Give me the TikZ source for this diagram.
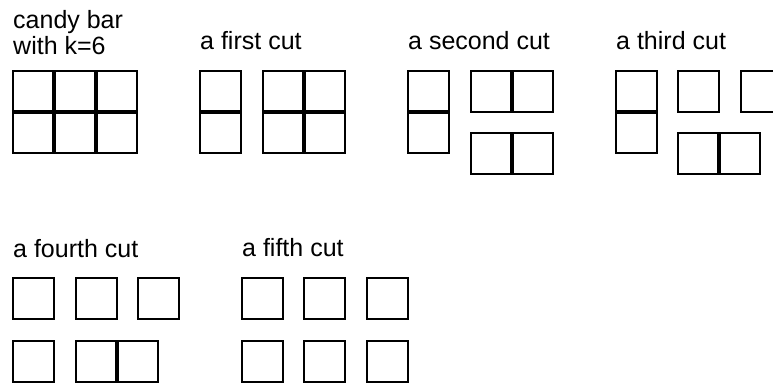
\documentclass[tikz,border=0pt]{standalone}
\usepackage{fontspec}
\setmainfont{Liberation Sans}
\usetikzlibrary{calc}
\tikzset{
  piece/.style={draw=black, line width=1.8pt, outer sep=0pt, inner sep=0pt,
              anchor=north west, minimum width=41pt, minimum height=41pt},
  wide/.style={piece, minimum width=82pt},
  tall/.style={piece, minimum height=82pt},
  block/.style={piece, minimum width=82pt, minimum height=82pt},
  whole/.style={piece, minimum width=124pt, minimum height=82pt},
  cutline/.style={draw=black, line width=3.8pt},
  lbl/.style={font=\fontsize{25}{28}\selectfont, inner sep=0pt, anchor=base west},
}

\begin{document}
\begin{tikzpicture}[x=1pt,y=-1pt]
    \useasboundingbox (0,0) rectangle (773,383);

    % the whole bar
    \node[lbl] (lbar) at (13,28){candy bar};
    \node[lbl] (lk) at (13,54){with k=6};
    \node[whole] (bar) at (13,71){};
    \draw[cutline] ($(bar.north west)!1/3!(bar.north east)$) -- ($(bar.south west)!1/3!(bar.south east)$);
    \draw[cutline] ($(bar.north west)!2/3!(bar.north east)$) -- ($(bar.south west)!2/3!(bar.south east)$);
    \draw[cutline] (bar.west) -- (bar.east);

    % first cut
    \node[lbl] (lone) at (200,49){a first cut};
    \node[tall] (a1) at (200,71){};
    \draw[cutline] (a1.west) -- (a1.east);
    \node[block] (a2) at (263,71){};
    \draw[cutline] (a2.north) -- (a2.south);
    \draw[cutline] (a2.west) -- (a2.east);

    % second cut
    \node[lbl] (ltwo) at (408,49){a second cut};
    \node[tall] (b1) at (408,71){};
    \draw[cutline] (b1.west) -- (b1.east);
    \node[wide] (b2) at (471,71){};
    \draw[cutline] (b2.north) -- (b2.south);
    \node[wide] (b3) at (471,133){};
    \draw[cutline] (b3.north) -- (b3.south);

    % third cut
    \node[lbl] (lthree) at (616,49){a third cut};
    \node[tall] (c1) at (616,71){};
    \draw[cutline] (c1.west) -- (c1.east);
    \node[piece] (c2) at (678,71){};
    \node[piece] (c3) at (741,71){};
    \node[wide] (c4) at (678,133){};
    \draw[cutline] (c4.north) -- (c4.south);

    % fourth cut
    \node[lbl] (lfour) at (13,257){a fourth cut};
    \node[piece] (d1) at (13,278){};
    \node[piece] (d2) at (76,278){};
    \node[piece] (d3) at (138,278){};
    \node[piece] (d4) at (13,341){};
    \node[wide] (d5) at (76,341){};
    \draw[cutline] (d5.north) -- (d5.south);

    % fifth cut
    \node[lbl] (lfive) at (242,256){a fifth cut};
    \foreach \i/\x in {1/242,2/304,3/367}{
      \node[piece] (e\i) at (\x,278){};
      \node[piece] (f\i) at (\x,341){};
    }
\end{tikzpicture}
\end{document}
